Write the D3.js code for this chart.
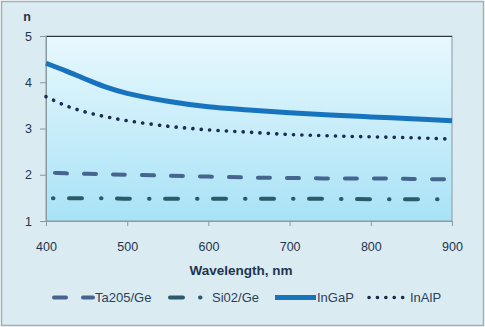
<!DOCTYPE html>
<html><head><meta charset="utf-8">
<script src="https://cdn.jsdelivr.net/npm/d3@7"></script>
<style>body{margin:0;background:#fff}svg{display:block}text{font-family:"Liberation Sans",Arial,sans-serif}</style>
</head><body>
<svg id="c" width="485" height="327"></svg>
<script>
const wavelengths = [400,425,450,475,500,550,600,650,700,750,800,850,900];
const ta2o5 = [2.05,2.03,2.02,2.01,2.00,1.98,1.96,1.94,1.93,1.92,1.92,1.91,1.90];
const sio2  = [1.49,1.49,1.49,1.49,1.48,1.48,1.48,1.48,1.48,1.48,1.47,1.47,1.47];
const ingap = [4.41,4.24,4.06,3.89,3.76,3.59,3.47,3.40,3.34,3.29,3.25,3.21,3.17];
const inalp = [3.69,3.49,3.35,3.25,3.17,3.05,2.97,2.92,2.87,2.84,2.82,2.80,2.77];
const xTicks = [400,500,600,700,800,900];
const yTicks = [1,2,3,4,5];
const seriesNames = ["Ta205/Ge","Si02/Ge","InGaP","InAlP"];

const svg = d3.select("#c");
const W=485,H=327;
const L=46,R=452,T=36,B=221;
const x = d3.scaleLinear().domain([400,900]).range([L,R]);
const y = d3.scaleLinear().domain([1,5]).range([B,T]);

svg.append("rect").attr("x",1.5).attr("y",1.5).attr("width",W-3).attr("height",H-3)
  .attr("fill","#dbebf2").attr("stroke","#9fb0b8").attr("stroke-width",1.5);

const defs = svg.append("defs");
const g = defs.append("linearGradient").attr("id","pg").attr("x1",0).attr("y1",0).attr("x2",0).attr("y2",1);
g.append("stop").attr("offset","0%").attr("stop-color","#e8f8fd");
g.append("stop").attr("offset","100%").attr("stop-color","#a8e2f6");

svg.append("rect").attr("x",L).attr("y",T).attr("width",R-L).attr("height",B-T)
  .attr("fill","url(#pg)").attr("stroke","#8a9aa2").attr("stroke-width",1);
svg.append("line").attr("x1",L-6).attr("x2",R).attr("y1",T+0.5).attr("y2",T+0.5)
  .attr("stroke","#2a3540").attr("stroke-width",1);

const xa = svg.append("g").attr("transform",`translate(0,${B})`)
  .call(d3.axisBottom(x).tickValues(xTicks).tickSize(5).tickPadding(16).tickFormat(d3.format("d")));
const ya = svg.append("g").attr("transform",`translate(${L},0)`)
  .call(d3.axisLeft(y).tickValues(yTicks).tickSize(6).tickPadding(8).tickFormat(d3.format("d")));
[xa,ya].forEach(a=>{
  a.select(".domain").attr("stroke","#8a9aa2");
  a.selectAll(".tick line").attr("stroke","#8a9aa2");
  a.selectAll("text").attr("fill","#1f3550").style("font-size","12.5px");
});

const line = (vals)=> d3.line().x((d,i)=>x(wavelengths[i])).y(d=>y(d)).curve(d3.curveCatmullRom.alpha(0.5))(vals);

const styles = [
  {vals:ta2o5,color:"#47648f",w:4,dash:"12 17",off:20,cap:"round"},
  {vals:sio2,color:"#2b5a6a",w:4,dash:"0.5 15.5 13 19",off:41,cap:"round"},
  {vals:ingap,color:"#1873bf",w:5,dash:null,off:0,cap:"butt"},
  {vals:inalp,color:"#1c2c4c",w:3.6,dash:"0.1 8.3",off:0,cap:"round"}
];
styles.forEach(s=>{
  svg.append("path").attr("d",line(s.vals)).attr("fill","none")
    .attr("stroke",s.color).attr("stroke-width",s.w)
    .attr("stroke-dasharray",s.dash).attr("stroke-dashoffset",s.off).attr("stroke-linecap",s.cap);
});

svg.append("text").attr("x",241).attr("y",275).attr("text-anchor","middle")
  .attr("font-weight","bold").style("font-size","13.5px").attr("fill","#1f3550").text("Wavelength, nm");
svg.append("text").attr("x",27).attr("y",21).attr("text-anchor","middle")
  .attr("font-weight","bold").style("font-size","12.5px").attr("fill","#1f3550").text("n");

const legY = 297.5;
const leg = [
  {x1:54,x2:93,tx:95,dash:"12 17"},
  {x1:170,x2:204,tx:212,dash:"13 17 0.5 20"},
  {x1:275,x2:316,tx:317,dash:null},
  {x1:369,x2:408,tx:410,dash:"0.1 8.3"}
];
leg.forEach((p,i)=>{
  const s = styles[i];
  svg.append("line").attr("x1",p.x1).attr("x2",p.x2).attr("y1",legY).attr("y2",legY)
    .attr("stroke",s.color).attr("stroke-width",s.w)
    .attr("stroke-dasharray",p.dash).attr("stroke-linecap",s.cap);
  svg.append("text").attr("x",p.tx).attr("y",legY+4.5).style("font-size","13px")
    .attr("fill","#2a3f5a").text(seriesNames[i]);
});
</script>
</body></html>
